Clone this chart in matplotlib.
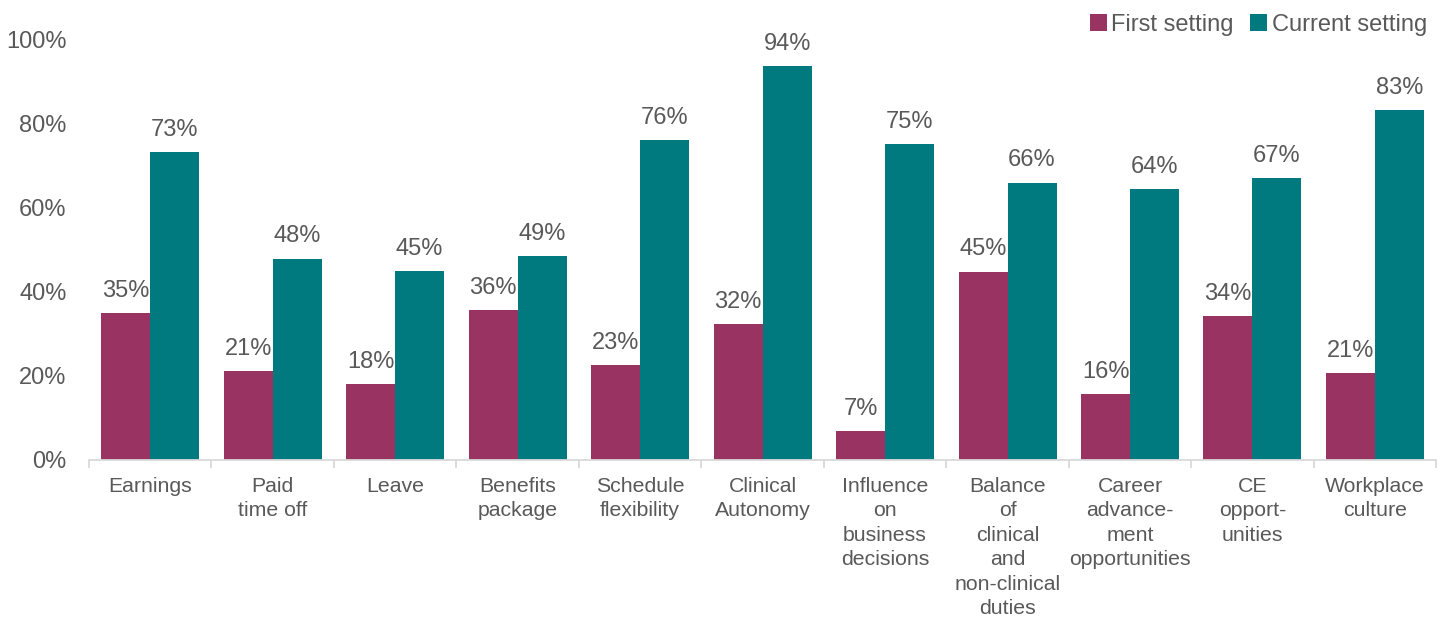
import matplotlib
matplotlib.use("Agg")
import matplotlib.pyplot as plt
import numpy as np

# ── Data ──
categories = ["Earnings", "Paid\ntime off", "Leave", "Benefits\npackage",
              "Schedule\nflexibility", "Clinical\nAutonomy",
              "Influence\non\nbusiness\ndecisions",
              "Balance\nof\nclinical\nand\nnon-clinical\nduties",
              "Career\nadvance-\nment\nopportunities", "CE\nopport-\nunities",
              "Workplace\nculture"]
first_setting = [35, 21, 18, 36, 23, 32, 7, 45, 16, 34, 21]
current_setting = [73, 48, 45, 49, 76, 94, 75, 66, 64, 67, 83]
first_heights = [35.0, 21.2, 18.1, 35.7, 22.6, 32.4, 6.9, 44.8, 15.7, 34.3, 20.7]
current_heights = [73.3, 47.9, 45.0, 48.6, 76.2, 93.8, 75.2, 66.0, 64.5, 67.1, 83.3]

MAROON = "#993361"
TEAL = "#007A7E"
TEXT = "#595959"
AXIS = "#D9D9D9"

plt.rcParams["font.family"] = ["Liberation Sans", "DejaVu Sans"]

fig = plt.figure(figsize=(14.44, 6.18), dpi=100)
ax = fig.add_axes([0.0616, 0.2557, 0.933, 0.6796])

x = np.arange(len(categories))
w = 0.4
b1 = ax.bar(x - w / 2, first_heights, w, color=MAROON, label="First setting")
b2 = ax.bar(x + w / 2, current_heights, w, color=TEAL, label="Current setting")

for bars, vals in ((b1, first_setting), (b2, current_setting)):
    for bar, v in zip(bars, vals):
        ax.text(bar.get_x() + bar.get_width() / 2, bar.get_height() + 2.7,
                f"{v}%", ha="center", va="bottom", fontsize=17, color=TEXT)

ax.set_xlim(-0.5, len(categories) - 0.5)
ax.set_ylim(0, 100)
ax.set_yticks(np.arange(0, 101, 20))
ax.set_yticklabels([f"{t}%" for t in range(0, 101, 20)], fontsize=17, color=TEXT)
ax.tick_params(axis="y", length=0, pad=16)

ax.set_xticks(x)
ax.set_xticklabels(categories, fontsize=15.3, color=TEXT, linespacing=1.37, va="top")
ax.tick_params(axis="x", length=0, pad=12)
ax.set_xticks(np.arange(-0.5, len(categories)), minor=True)
ax.tick_params(axis="x", which="minor", length=6, color=AXIS, width=1.3)

for s in ["top", "right", "left"]:
    ax.spines[s].set_visible(False)
ax.spines["bottom"].set_color(AXIS)
ax.spines["bottom"].set_linewidth(1.3)

ax.legend(loc="upper right", bbox_to_anchor=(1.0, 1.085), ncol=2, frameon=False,
          fontsize=17, labelcolor=TEXT, handlelength=0.7, handleheight=0.7,
          handletextpad=0.2, columnspacing=0.7, borderaxespad=0)

fig.savefig("out.png", dpi=100)
